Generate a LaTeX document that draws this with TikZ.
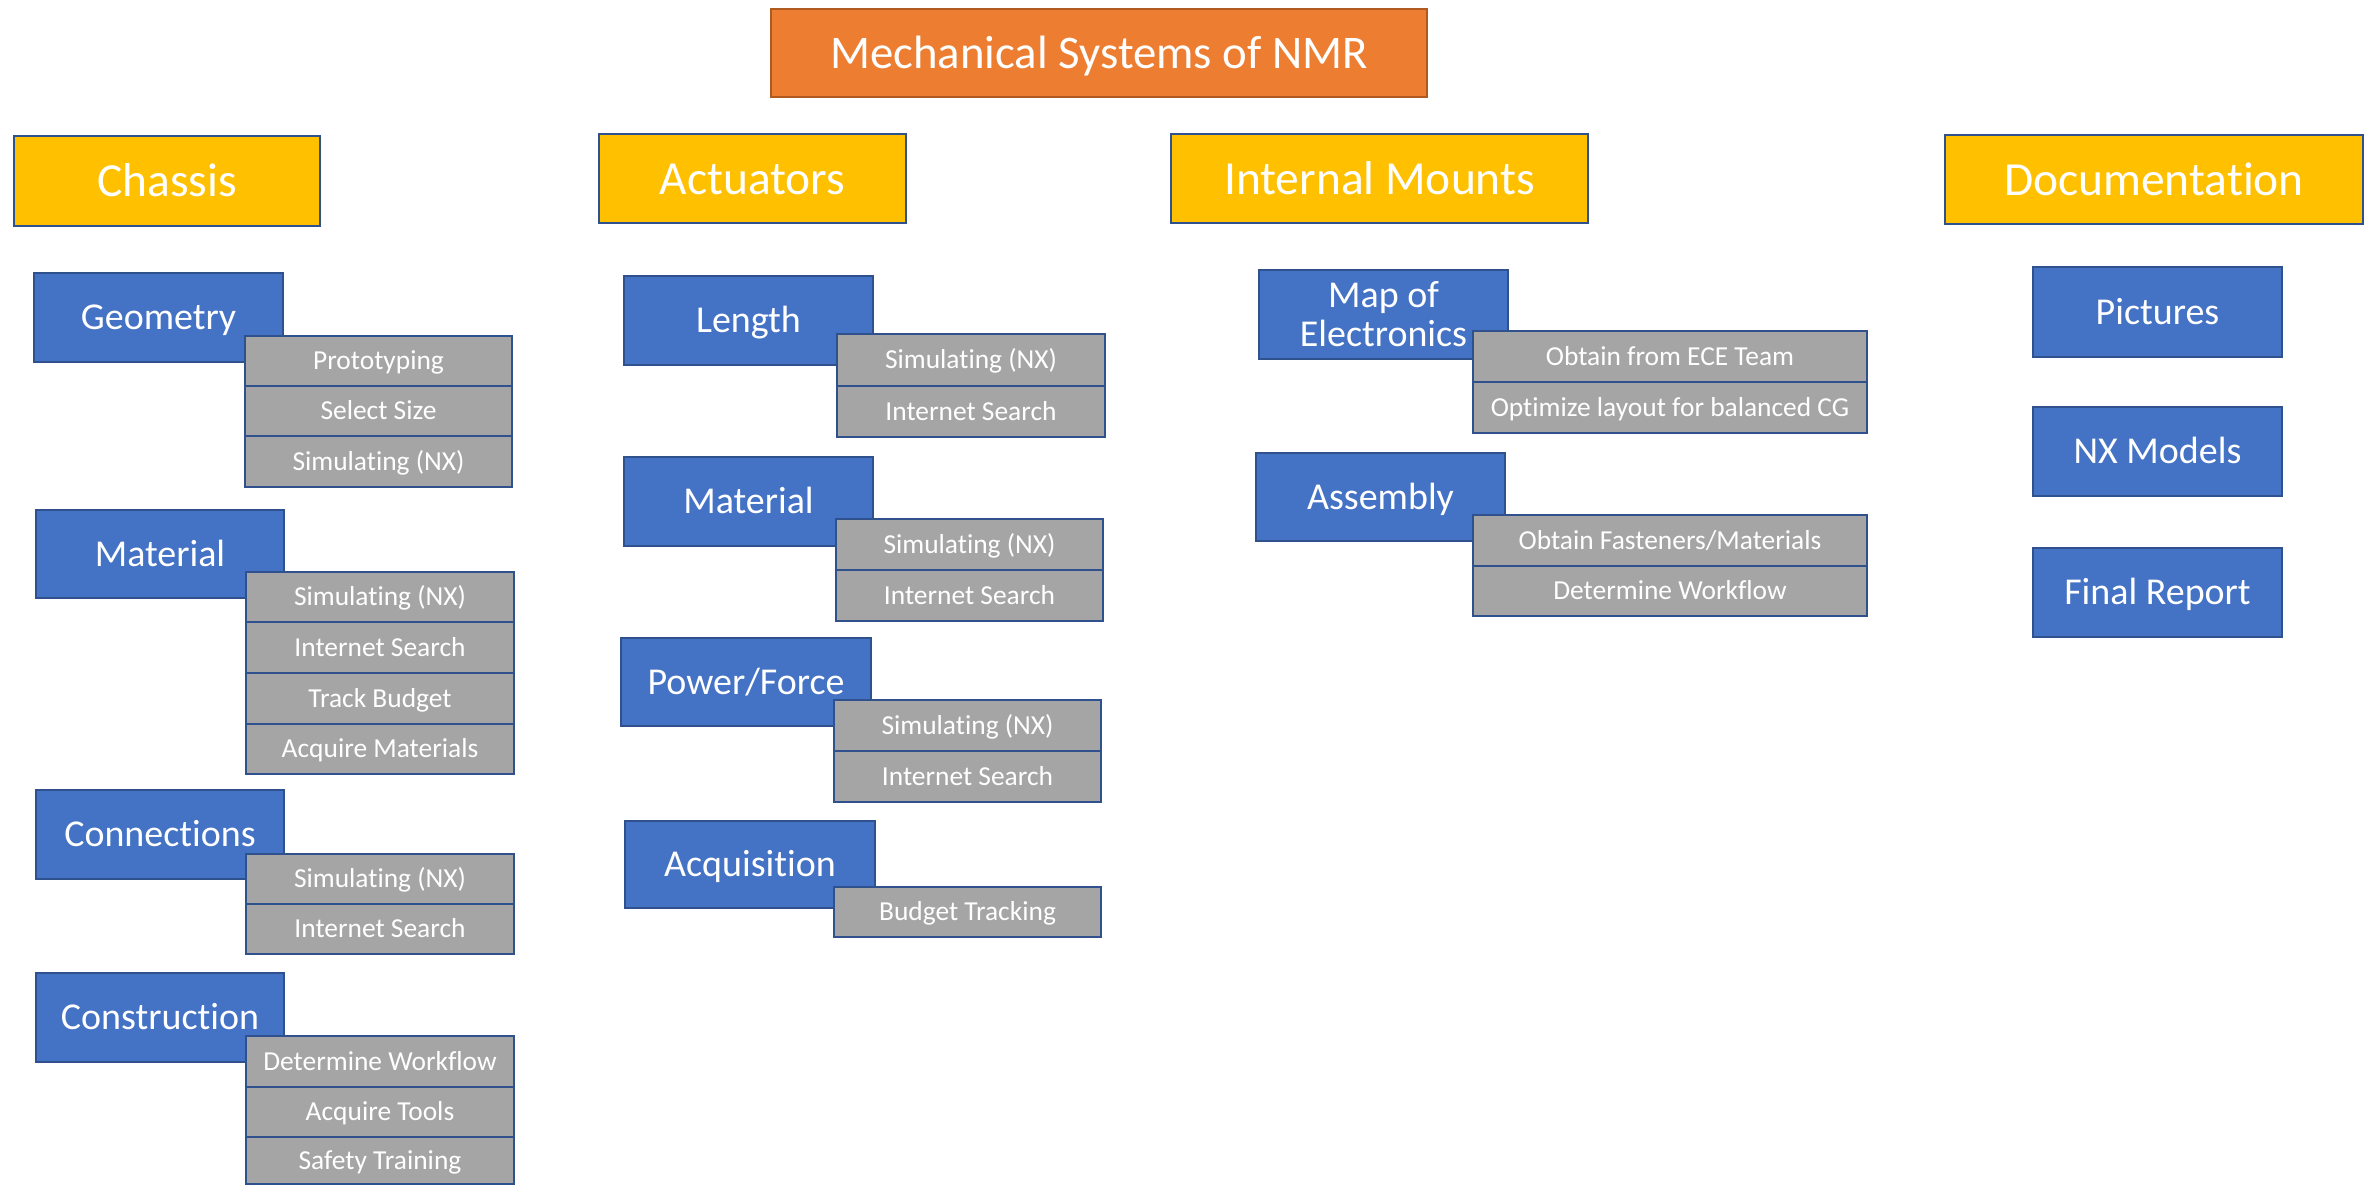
\documentclass[tikz,border=0pt]{standalone}
\usepackage{fontspec}
\setmainfont{Carlito}[Ligatures=NoCommon]
\usepackage{xcolor}
\definecolor{nmrorange}{HTML}{ED7D31}
\definecolor{orangeedge}{HTML}{AE5A21}
\definecolor{nmrgold}{HTML}{FFC000}
\definecolor{nmrblue}{HTML}{4472C4}
\definecolor{nmrgray}{HTML}{A5A5A5}
\definecolor{edgeblue}{HTML}{2F528F}

\begin{document}
\begin{tikzpicture}[x=0.01cm,y=-0.01cm,
    topbox/.style={draw=orangeedge,line width=0.8pt,fill=nmrorange,text=white,font=\fontsize{13.3}{16}\selectfont,text height=8.8pt,text depth=0pt},
    groupbox/.style={draw=edgeblue,line width=0.8pt,fill=nmrgold,text=white,font=\fontsize{13.5}{16}\selectfont,text height=8.9pt,text depth=0pt},
    itembox/.style={draw=edgeblue,line width=0.6pt,fill=nmrblue,text=white,font=\fontsize{10.8}{11}\selectfont,text height=7.1pt,text depth=0pt},
    taskbox/.style={draw=edgeblue,line width=0.7pt,fill=nmrgray,text=white,font=\fontsize{7.8}{9}\selectfont,text height=5.1pt,text depth=0pt}]
    \useasboundingbox (0,0) rectangle (2372,1185);

    \draw[topbox] (771,9) rectangle (1427,97) node[pos=.5] (title) {Mechanical Systems of NMR};

    \draw[groupbox] (14,136) rectangle (320,226) node[pos=.5] (chassis) {Chassis};
    \draw[groupbox] (599,134) rectangle (906,223) node[pos=.5] (actuators) {Actuators};
    \draw[groupbox] (1171,134) rectangle (1588,223) node[pos=.5] (mounts) {Internal Mounts};
    \draw[groupbox] (1945,135) rectangle (2363,224) node[pos=.5] (docs) {Documentation};

    % Chassis
    \draw[itembox] (34,273) rectangle (283,362) node[pos=.5] (geometry) {Geometry};
    \draw[taskbox] (245,336) rectangle (512,386) node[pos=.5] (geoA) {Prototyping};
    \draw[taskbox] (245,386) rectangle (512,436) node[pos=.5] (geoB) {Select Size};
    \draw[taskbox] (245,436) rectangle (512,487) node[pos=.5] (geoC) {Simulating (NX)};

    \draw[itembox] (36,510) rectangle (284,598) node[pos=.5] (chmat) {Material};
    \draw[taskbox] (246,572) rectangle (514,622) node[pos=.5] (chmatA) {Simulating (NX)};
    \draw[taskbox] (246,622) rectangle (514,673) node[pos=.5] (chmatB) {Internet Search};
    \draw[taskbox] (246,673) rectangle (514,724) node[pos=.5] (chmatC) {Track Budget};
    \draw[taskbox] (246,724) rectangle (514,774) node[pos=.5] (chmatD) {Acquire Materials};

    \draw[itembox] (36,790) rectangle (284,879) node[pos=.5] (conn) {Connections};
    \draw[taskbox] (246,854) rectangle (514,904) node[pos=.5] (connA) {Simulating (NX)};
    \draw[taskbox] (246,904) rectangle (514,954) node[pos=.5] (connB) {Internet Search};

    \draw[itembox] (36,973) rectangle (284,1062) node[pos=.5] (constr) {Construction};
    \draw[taskbox] (246,1036) rectangle (514,1087) node[pos=.5] (constrA) {Determine Workflow};
    \draw[taskbox] (246,1087) rectangle (514,1137) node[pos=.5] (constrB) {Acquire Tools};
    \draw[taskbox] (246,1137) rectangle (514,1184) node[pos=.5] (constrC) {Safety Training};

    % Actuators
    \draw[itembox] (624,276) rectangle (873,365) node[pos=.5] (length) {Length};
    \draw[taskbox] (837,334) rectangle (1105,386) node[pos=.5] (lengthA) {Simulating (NX)};
    \draw[taskbox] (837,386) rectangle (1105,437) node[pos=.5] (lengthB) {Internet Search};

    \draw[itembox] (624,457) rectangle (873,546) node[pos=.5] (acmat) {Material};
    \draw[taskbox] (836,519) rectangle (1103,570) node[pos=.5] (acmatA) {Simulating (NX)};
    \draw[taskbox] (836,570) rectangle (1103,621) node[pos=.5] (acmatB) {Internet Search};

    \draw[itembox] (621,638) rectangle (871,726) node[pos=.5] (power) {Power/Force};
    \draw[taskbox] (834,700) rectangle (1101,751) node[pos=.5] (powerA) {Simulating (NX)};
    \draw[taskbox] (834,751) rectangle (1101,802) node[pos=.5] (powerB) {Internet Search};

    \draw[itembox] (625,821) rectangle (875,908) node[pos=.5] (acq) {Acquisition};
    \draw[taskbox] (834,887) rectangle (1101,937) node[pos=.5] (acqA) {Budget Tracking};

    % Internal Mounts
    \draw[itembox] (1259,270) rectangle (1508,359) node[pos=.5,align=center,text height=18.1pt] (map) {Map of\\Electronics};
    \draw[taskbox] (1473,331) rectangle (1867,382) node[pos=.5] (mapA) {Obtain from ECE Team};
    \draw[taskbox] (1473,382) rectangle (1867,433) node[pos=.5] (mapB) {Optimize layout for balanced CG};

    \draw[itembox] (1256,453) rectangle (1505,541) node[pos=.5] (assembly) {Assembly};
    \draw[taskbox] (1473,515) rectangle (1867,566) node[pos=.5] (assemblyA) {Obtain Fasteners/Materials};
    \draw[taskbox] (1473,566) rectangle (1867,616) node[pos=.5] (assemblyB) {Determine Workflow};

    % Documentation
    \draw[itembox] (2033,267) rectangle (2282,357) node[pos=.5] (pictures) {Pictures};
    \draw[itembox] (2033,407) rectangle (2282,496) node[pos=.5] (models) {NX Models};
    \draw[itembox] (2033,548) rectangle (2282,637) node[pos=.5] (report) {Final Report};
\end{tikzpicture}
\end{document}
